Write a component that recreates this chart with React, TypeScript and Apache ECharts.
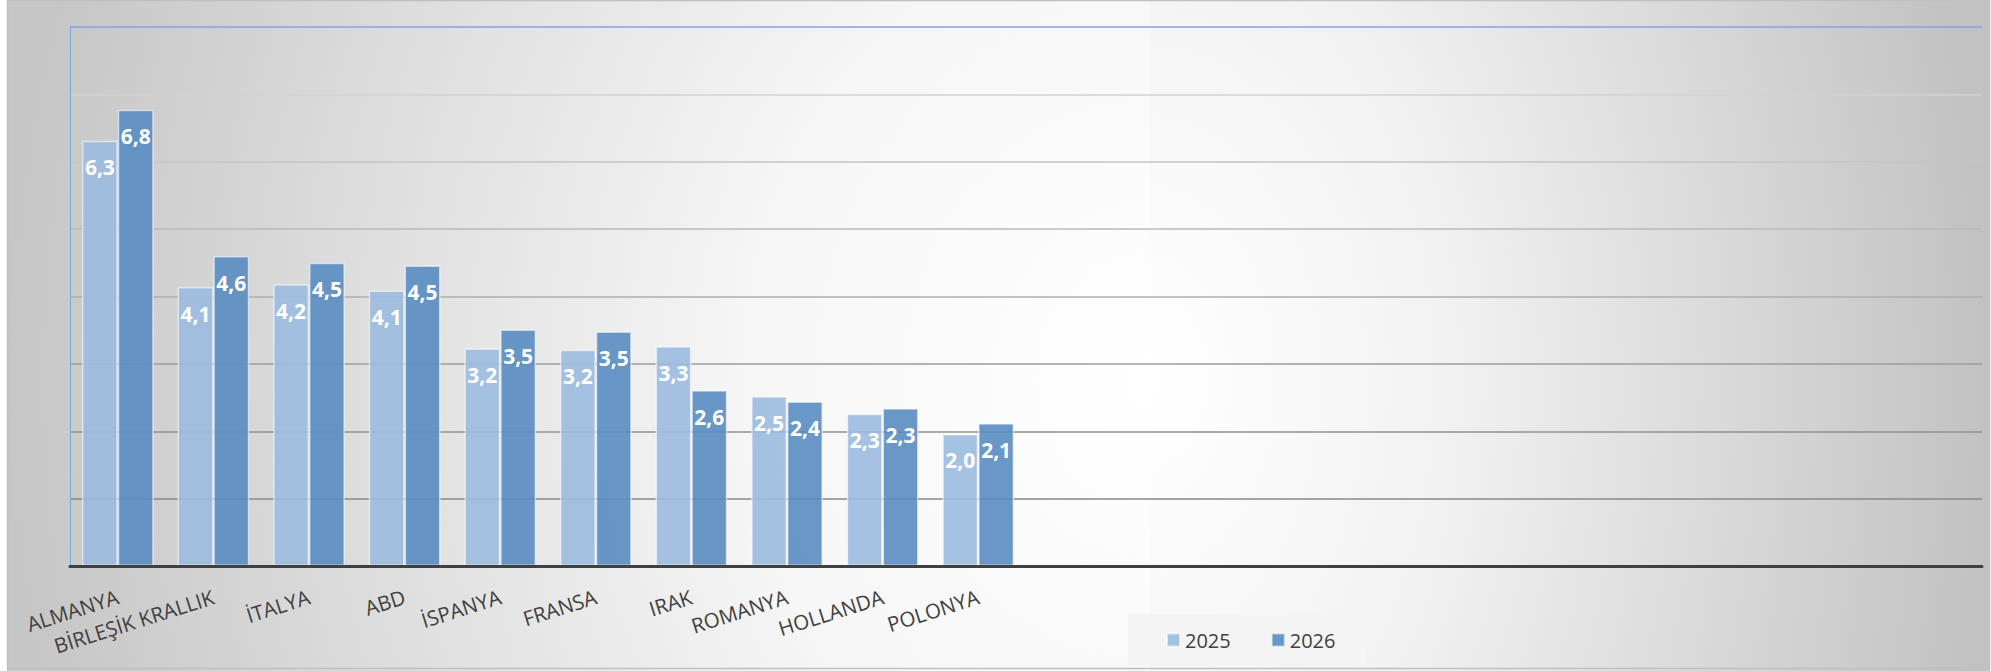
import React, { useEffect, useRef } from "react";
import * as echarts from "echarts";

const categories = [
  "ALMANYA",
  "BİRLEŞİK KRALLIK",
  "İTALYA",
  "ABD",
  "İSPANYA",
  "FRANSA",
  "IRAK",
  "ROMANYA",
  "HOLLANDA",
  "POLONYA",
];
const emptySlots = 10;
const seriesNames = ["2025", "2026"];
const values2025 = [6.31, 4.14, 4.18, 4.09, 3.23, 3.21, 3.26, 2.52, 2.26, 1.96];
const values2026 = [6.77, 4.6, 4.5, 4.46, 3.51, 3.48, 2.61, 2.44, 2.34, 2.12];
const yMin = 0;
const yMax = 8;
const yInterval = 1;

export default function App() {
  const ref = useRef<HTMLDivElement>(null);

  useEffect(() => {
    if (!ref.current) return;
    const chart = echarts.init(ref.current, null, { renderer: "svg" });
    const axisData = [...categories, ...Array(emptySlots).fill("")];
    const fmt = (p: any) => Number(p.value).toFixed(1).replace(".", ",");
    const gridColors = [
      "#7f7f7f",
      "#888888",
      "#909090",
      "#9c9c9c",
      "#aeaeae",
      "#bababa",
      "#c4c4c4",
      "#d2d2d2",
      "#7ba7dc",
    ];
    const labelStyle = {
      show: true,
      position: "insideTop",
      distance: 16,
      color: "#ffffff",
      fontWeight: "bold",
      fontSize: 21,
      lineHeight: 21,
      fontFamily: "Open Sans",
      formatter: fmt,
    };
    const leftGrad = new echarts.graphic.RadialGradient(1, 0.5, 1, [
      { offset: 0, color: "#ffffff" },
      { offset: 0.35, color: "#f6f6f6" },
      { offset: 0.7, color: "#dddddd" },
      { offset: 1, color: "#c6c6c6" },
    ]);
    const rightGrad = new echarts.graphic.RadialGradient(0, 0.5, 1, [
      { offset: 0, color: "#ffffff" },
      { offset: 0.35, color: "#f2f2f2" },
      { offset: 1, color: "#c2c2c2" },
    ]);

    chart.setOption({
      animation: false,
      textStyle: { fontFamily: "Open Sans" },
      graphic: [
        {
          type: "rect",
          z: -100,
          silent: true,
          shape: { x: 7, y: -270, width: 1143, height: 1300 },
          style: { fill: leftGrad },
        },
        {
          type: "rect",
          z: -100,
          silent: true,
          shape: { x: 1150, y: -270, width: 840, height: 1300 },
          style: { fill: rightGrad },
        },
        {
          type: "rect",
          z: -99,
          silent: true,
          shape: { x: 7.5, y: 0.5, width: 1982, height: 668 },
          style: { fill: "none", stroke: "#bfbfbf", lineWidth: 1.5 },
        },
      ],
      legend: {
        data: seriesNames,
        left: 1128,
        top: 614,
        orient: "horizontal",
        itemWidth: 13,
        itemHeight: 13,
        itemGap: 40,
        icon: "rect",
        backgroundColor: "#f4f4f4",
        padding: [16, 30, 16, 38],
        textStyle: {
          fontSize: 20,
          lineHeight: 20,
          color: "#404040",
          fontFamily: "Open Sans",
        },
      },
      grid: { left: 70, right: 9, top: 27, bottom: 105, containLabel: false },
      xAxis: {
        type: "category",
        data: axisData,
        z: 5,
        axisTick: { show: false },
        axisLine: { show: true, lineStyle: { color: "#404040", width: 3 } },
        axisLabel: {
          interval: 0,
          rotate: 17.5,
          margin: 30,
          fontSize: 20.5,
          color: "#404040",
          fontFamily: "Open Sans",
        },
      },
      yAxis: {
        type: "value",
        min: yMin,
        max: yMax,
        interval: yInterval,
        axisLabel: { show: false },
        axisTick: { show: false },
        axisLine: { show: true, lineStyle: { color: "#7ba7dc", width: 1 } },
        splitLine: { show: true, lineStyle: { color: gridColors, width: 1.5 } },
      },
      series: [
        {
          name: seriesNames[0],
          type: "bar",
          data: values2025,
          barGap: "0%",
          barCategoryGap: "25%",
          itemStyle: {
            color: "rgba(155,187,224,0.9)",
            borderColor: "rgba(255,255,255,0.55)",
            borderWidth: 1.5,
          },
          label: labelStyle,
        },
        {
          name: seriesNames[1],
          type: "bar",
          data: values2026,
          barGap: "0%",
          barCategoryGap: "25%",
          itemStyle: {
            color: "rgba(88,140,194,0.9)",
            borderColor: "rgba(255,255,255,0.55)",
            borderWidth: 1.5,
          },
          label: labelStyle,
        },
      ],
    });

    return () => chart.dispose();
  }, []);

  return (
    <div
      ref={ref}
      style={{ position: "absolute", left: 0, top: 0, width: 1991, height: 671 }}
    />
  );
}
